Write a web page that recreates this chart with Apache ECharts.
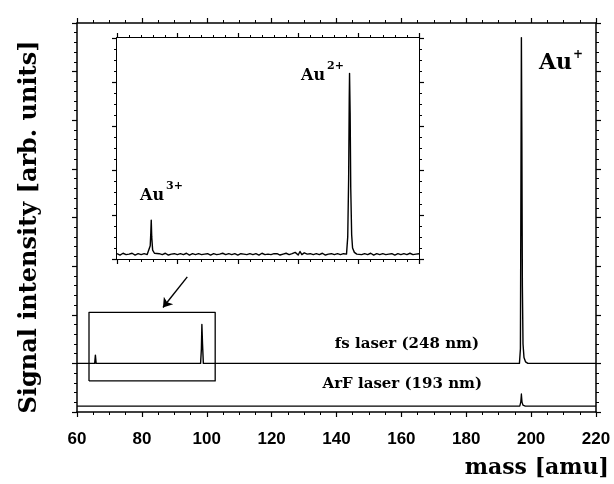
<!DOCTYPE html>
<html>
<head>
<meta charset="utf-8">
<script src="https://cdn.jsdelivr.net/npm/echarts@6/dist/echarts.min.js"></script>
<style>html,body{margin:0;padding:0;background:#fff}#c{width:614px;height:484px}</style>
</head>
<body>
<div id="c"></div>
<script>
// ---- data ----
const xTicks = [60, 80, 100, 120, 140, 160, 180, 200, 220];
// fs laser (248 nm) trace, main plot [mass, signal]
const fsMass   = [60, 65.45, 65.67, 65.9, 70, 80, 90, 98.1, 98.35, 98.5, 98.7, 98.95, 110, 120, 150, 180, 196.4, 196.7, 196.85, 197.0, 197.15, 197.3, 197.5, 197.8, 198.3, 199, 220];
const fsSignal = [1.0, 1.0, 1.17, 1.0, 1.0, 1.0, 1.0, 1.0, 1.3, 1.8, 1.4, 1.0, 1.0, 1.0, 1.0, 1.0, 1.0, 1.3, 4.5, 7.7, 5.5, 2.6, 1.4, 1.12, 1.03, 1.0, 1.0];
// ArF laser (193 nm) trace
const arfMass   = [60, 120, 196.5, 196.8, 197.0, 197.2, 197.5, 198.2, 220];
const arfSignal = [0.12, 0.12, 0.12, 0.2, 0.37, 0.2, 0.14, 0.12, 0.12];
// zoom box on the main plot (mass, signal) corners
const boxMass   = [63.7, 63.7, 102.6, 102.6, 63.7];
const boxSignal = [0.64, 2.05, 2.05, 0.64, 0.64];
// arrow from inset to zoom box
const arrowFrom = [94, 2.78];
const arrowTo   = [86.5, 2.15];
// inset trace (60-110 amu)
const insetMass = [60,60.5,61,61.5,62,62.5,63,63.5,64,64.5,65,65.3,65.5,65.6,65.67,65.75,65.9,66.2,66.5,67,67.5,68,68.5,69,69.5,70,70.5,71,71.5,72,72.5,73,73.5,74,74.5,75,75.5,76,76.5,77,77.5,78,78.5,79,79.5,80,80.5,81,81.5,82,82.5,83,83.5,84,84.5,85,85.5,86,86.5,87,87.5,88,88.5,89,89.5,90,90.3,90.6,91,91.5,92,92.5,93,93.5,94,94.5,95,95.5,96,96.5,97,97.5,98,98.2,98.35,98.45,98.5,98.6,98.7,98.85,99.0,99.3,99.7,100,100.5,101,101.5,102,102.5,103,103.5,104,104.5,105,105.5,106,106.5,107,107.5,108,108.5,109,109.5,110];
const insetSignal = [0.12,0.09,0.13,0.1,0.11,0.13,0.09,0.12,0.1,0.12,0.1,0.12,0.3,0.6,0.88,0.5,0.2,0.13,0.1,0.12,0.1,0.13,0.09,0.11,0.12,0.1,0.12,0.1,0.13,0.09,0.12,0.1,0.12,0.1,0.11,0.12,0.09,0.12,0.1,0.11,0.13,0.1,0.12,0.1,0.12,0.09,0.12,0.11,0.1,0.12,0.1,0.12,0.09,0.13,0.1,0.11,0.1,0.12,0.12,0.09,0.11,0.13,0.1,0.12,0.15,0.09,0.17,0.1,0.14,0.11,0.12,0.1,0.12,0.1,0.13,0.09,0.11,0.12,0.1,0.12,0.1,0.12,0.11,0.5,1.8,3.6,4.2,3.3,1.6,0.55,0.25,0.15,0.11,0.12,0.1,0.12,0.1,0.13,0.09,0.12,0.1,0.12,0.1,0.11,0.12,0.09,0.12,0.1,0.12,0.1,0.13,0.1,0.11,0.12,0.1,0.12];

const zip = (a, b) => a.map((v, i) => [v, b[i]]);

const chart = echarts.init(document.getElementById('c'), null, {renderer: 'canvas'});
const black = '#000';
const serif = 'DejaVu Serif';

function xAx(gridIndex, pos, min, max, interval, minorSplit, showLabel, lw) {
  return {
    type: 'value', gridIndex: gridIndex, position: pos, min: min, max: max, interval: interval,
    axisLine: {show: true, onZero: false, lineStyle: {color: black, width: lw}},
    axisTick: {show: true, length: 5, lineStyle: {color: black, width: 1.2}},
    minorTick: {show: true, splitNumber: minorSplit, length: 3, lineStyle: {color: black, width: 1}},
    splitLine: {show: false},
    axisLabel: {show: showLabel, color: black, fontFamily: 'Liberation Sans', fontWeight: 'bold', fontSize: 17, margin: 19,
      formatter: v => (xTicks.indexOf(v) >= 0 ? String(v) : '')}
  };
}
function yAx(gridIndex, pos, min, max, interval, minorSplit, lw) {
  return {
    type: 'value', gridIndex: gridIndex, position: pos, min: min, max: max, interval: interval,
    axisLine: {show: true, onZero: false, lineStyle: {color: black, width: lw}},
    axisTick: {show: true, length: 5, lineStyle: {color: black, width: 1.2}},
    minorTick: {show: true, splitNumber: minorSplit, length: 3, lineStyle: {color: black, width: 1}},
    splitLine: {show: false},
    axisLabel: {show: false}
  };
}
const lineSeries = (xi, yi, data, w, z) => ({
  type: 'line', xAxisIndex: xi, yAxisIndex: yi, data: data, showSymbol: false, symbol: 'none',
  smooth: false, lineStyle: {color: black, width: w, join: 'round'}, z: z
});

const option = {
  backgroundColor: '#fff',
  animation: false,
  grid: [
    {left: 77, top: 23, width: 519, height: 389},
    {left: 117, top: 38, width: 302, height: 221, show: true, backgroundColor: '#fff', borderWidth: 0, z: 3}
  ],
  xAxis: [
    xAx(0, 'bottom', 60, 220, 20, 4, true, 1.5),
    xAx(0, 'top', 60, 220, 20, 4, false, 1.5),
    xAx(1, 'bottom', 60, 110, 10, 5, false, 2),
    xAx(1, 'top', 60, 110, 10, 5, false, 2)
  ],
  yAxis: [
    yAx(0, 'left', 0, 8, 1, 5, 1.5),
    yAx(0, 'right', 0, 8, 1, 5, 1.5),
    yAx(1, 'left', 0, 5, 1, 4, 2),
    yAx(1, 'right', 0, 5, 1, 4, 2)
  ],
  series: [
    lineSeries(0, 0, zip(fsMass, fsSignal), 1.4, 2),
    lineSeries(0, 0, zip(arfMass, arfSignal), 1.3, 2),
    lineSeries(0, 0, zip(boxMass, boxSignal), 1.3, 2),
    {type: 'lines', coordinateSystem: 'cartesian2d', xAxisIndex: 0, yAxisIndex: 0,
      symbol: ['none', 'arrow'], symbolSize: 9,
      lineStyle: {color: black, width: 1.4, opacity: 1},
      data: [{coords: [arrowFrom, arrowTo]}]},
    lineSeries(2, 2, zip(insetMass, insetSignal), 1.4, 5)
  ],
  graphic: [
    {type: 'text', x: 30, y: 227, rotation: Math.PI / 2, style: {text: 'Signal intensity [arb. units]', fontFamily: serif, fontWeight: 'bold', fontSize: 24, fill: black, textAlign: 'center', textVerticalAlign: 'middle'}},
    {type: 'text', x: 609, y: 468, style: {text: 'mass [amu]', fontFamily: serif, fontWeight: 'bold', fontSize: 22, fill: black, textAlign: 'right', textVerticalAlign: 'middle'}},
    {type: 'text', x: 479, y: 344, style: {text: 'fs laser (248 nm)', fontFamily: serif, fontWeight: 'bold', fontSize: 15, fill: black, textAlign: 'right', textVerticalAlign: 'middle'}},
    {type: 'text', x: 482, y: 384, style: {text: 'ArF laser (193 nm)', fontFamily: serif, fontWeight: 'bold', fontSize: 15, fill: black, textAlign: 'right', textVerticalAlign: 'middle'}},
    {type: 'text', x: 539, y: 63, style: {text: 'Au', fontFamily: serif, fontWeight: 'bold', fontSize: 22, fill: black, textAlign: 'left', textVerticalAlign: 'middle'}},
    {type: 'text', x: 573, y: 55, style: {text: '+', fontFamily: serif, fontWeight: 'bold', fontSize: 12, fill: black, textAlign: 'left', textVerticalAlign: 'middle'}},
    {type: 'text', x: 301, y: 76, z: 10, style: {text: 'Au', fontFamily: serif, fontWeight: 'bold', fontSize: 16, fill: black, textAlign: 'left', textVerticalAlign: 'middle'}},
    {type: 'text', x: 327, y: 66, z: 10, style: {text: '2+', fontFamily: serif, fontWeight: 'bold', fontSize: 11, fill: black, textAlign: 'left', textVerticalAlign: 'middle'}},
    {type: 'text', x: 140, y: 196, z: 10, style: {text: 'Au', fontFamily: serif, fontWeight: 'bold', fontSize: 16, fill: black, textAlign: 'left', textVerticalAlign: 'middle'}},
    {type: 'text', x: 166, y: 186, z: 10, style: {text: '3+', fontFamily: serif, fontWeight: 'bold', fontSize: 11, fill: black, textAlign: 'left', textVerticalAlign: 'middle'}}
  ]
};
chart.setOption(option);
</script>
</body>
</html>
